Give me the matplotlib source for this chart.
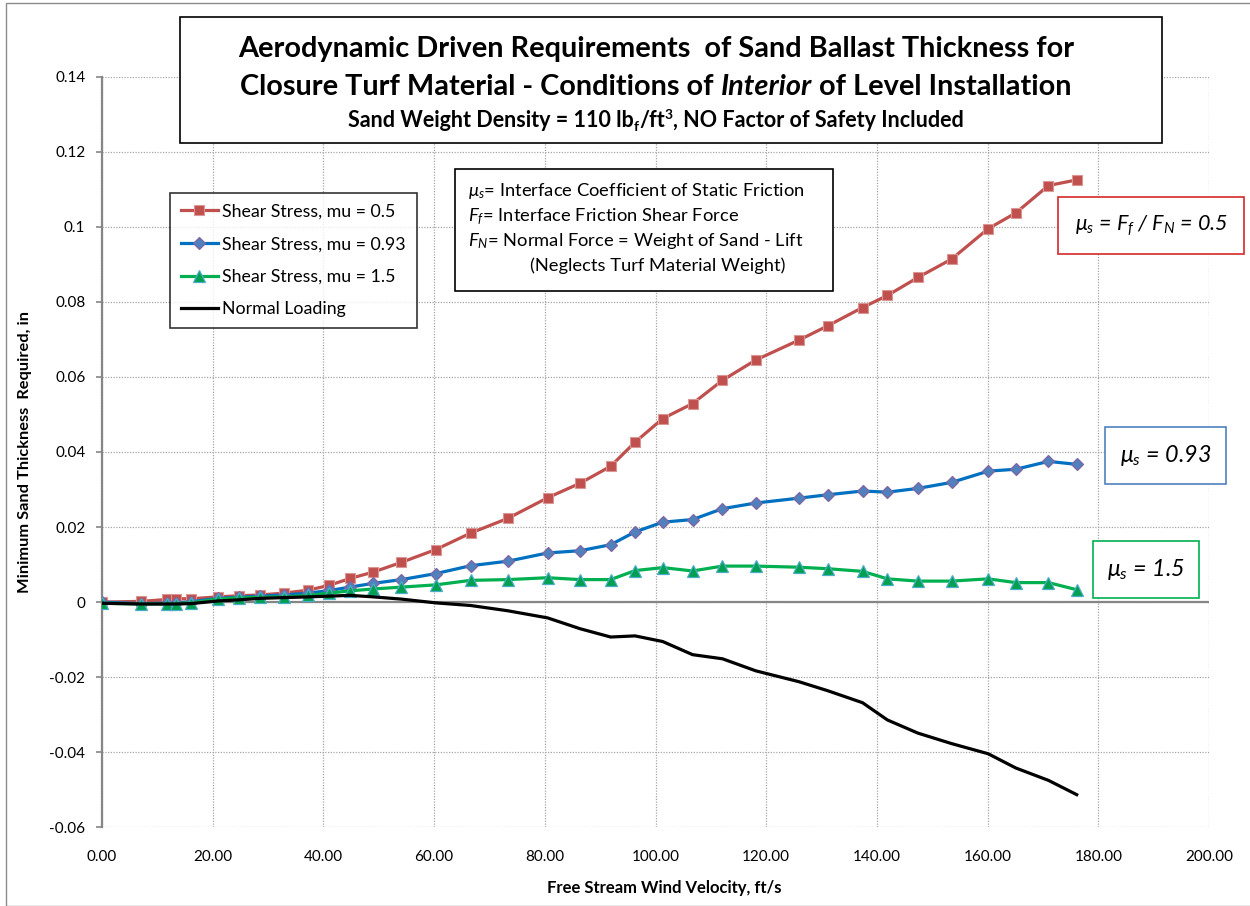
import matplotlib
matplotlib.use('Agg')
import matplotlib.pyplot as plt
from matplotlib.patches import Rectangle

plt.rcParams['font.family'] = ['Lato', 'DejaVu Sans']
plt.rcParams['mathtext.fontset'] = 'custom'
plt.rcParams['mathtext.rm'] = 'Lato'
plt.rcParams['mathtext.it'] = 'Lato:italic'
plt.rcParams['mathtext.bf'] = 'Lato:bold'

# --- data ---
velocity = [0, 7.0, 11.8, 13.4, 16.1, 20.9, 24.7, 28.5, 32.9, 37.3, 41.1, 44.8, 49.0,
            54.1, 60.3, 66.6, 73.3, 80.5, 86.4, 91.9, 96.3, 101.3,
            106.7, 112.1, 118.1, 125.9, 131.1, 137.4, 141.9, 147.4, 153.5, 160.1, 165.1, 171.0, 176.1]

mu_05 = [0.0000, 0.0002, 0.0007, 0.0009, 0.0009, 0.0014, 0.0017, 0.0019, 0.0024, 0.0032, 0.0045, 0.0063, 0.0080,
         0.0106, 0.0140, 0.0184, 0.0223, 0.0278, 0.0317, 0.0362, 0.0426, 0.0489,
         0.0529, 0.0591, 0.0645, 0.0698, 0.0736, 0.0785, 0.0817, 0.0865, 0.0914, 0.0995, 0.1037, 0.1110, 0.1125]

mu_093 = [0.0000, -0.0004, -0.0003, -0.0002, 0.0001, 0.0010, 0.0013, 0.0016, 0.0019, 0.0024, 0.0031, 0.0040, 0.0050,
          0.0060, 0.0076, 0.0097, 0.0109, 0.0131, 0.0137, 0.0153, 0.0187, 0.0213,
          0.0220, 0.0249, 0.0264, 0.0277, 0.0286, 0.0296, 0.0293, 0.0303, 0.0319, 0.0349, 0.0354, 0.0375, 0.0367]

mu_15 = [-0.0003, -0.0005, -0.0005, -0.0004, -0.0002, 0.0008, 0.0011, 0.0013, 0.0014, 0.0018, 0.0024, 0.0030, 0.0035,
         0.0040, 0.0046, 0.0058, 0.0060, 0.0065, 0.0060, 0.0060, 0.0084, 0.0092,
         0.0083, 0.0096, 0.0096, 0.0093, 0.0089, 0.0082, 0.0062, 0.0056, 0.0056, 0.0062, 0.0052, 0.0052, 0.0033]

normal = [-0.0003, -0.0005, -0.0005, -0.0005, -0.0004, 0.0003, 0.0006, 0.0010, 0.0012, 0.0014, 0.0016, 0.0018, 0.0014,
          0.0008, -0.0002, -0.0009, -0.0023, -0.0042, -0.0071, -0.0093, -0.0090, -0.0105,
          -0.0140, -0.0151, -0.0183, -0.0212, -0.0236, -0.0268, -0.0314, -0.0349, -0.0377, -0.0404, -0.0442, -0.0475, -0.0513]

x_ticks = [0, 20, 40, 60, 80, 100, 120, 140, 160, 180, 200]
x_ticklabels = ['0.00', '20.00', '40.00', '60.00', '80.00', '100.00', '120.00',
                '140.00', '160.00', '180.00', '200.00']
y_ticks = [-0.06, -0.04, -0.02, 0, 0.02, 0.04, 0.06, 0.08, 0.1, 0.12, 0.14]
y_ticklabels = ['-0.06', '-0.04', '-0.02', '0', '0.02', '0.04', '0.06', '0.08', '0.1', '0.12', '0.14']

W, H = 1250, 906
fig = plt.figure(figsize=(W / 100, H / 100), dpi=100)
renderer = fig.canvas.get_renderer()


def fx(px):
    return px / W


def fy(py):
    return 1 - py / H


def rich_text(x, y, pieces, ha='center', **common):
    """pieces: (text, props, dy_px) drawn side by side, baseline at pixel y."""
    items = []
    for s, props, dy in pieces:
        t = fig.text(0, 0, s, va='baseline', ha='left', **{**common, **props})
        w = t.get_window_extent(renderer).width
        items.append((t, w, dy))
    total = sum(w for _, w, _ in items)
    x0 = x - total / 2 if ha == 'center' else x
    for t, w, dy in items:
        t.set_position((fx(x0), fy(y - dy)))
        x0 += w


# outer chart border
fig.patches.append(Rectangle((fx(6), 0), 1, fy(3), transform=fig.transFigure,
                             fill=False, edgecolor='#8C8C8C', lw=1.0))

ax = fig.add_axes([fx(102), fy(827.3), fx(1209 - 102), (827.3 - 76.7) / H])

ax.plot(velocity, mu_05, '-', color='#C0504D', lw=2.3, marker='s', ms=7.5,
        mfc='#C0504D', mec='#D99694', mew=0.8, label='Shear Stress, mu = 0.5', zorder=3)
ax.plot(velocity, mu_093, '-', color='#0070C0', lw=2.3, marker='D', ms=6.2,
        mfc='#4F81BD', mec='#8064A2', mew=0.9, label='Shear Stress, mu = 0.93', zorder=3)
ax.plot(velocity, mu_15, '-', color='#00B050', lw=2.3, marker='^', ms=8,
        mfc='#00A050', mec='#4BACC6', mew=0.9, label='Shear Stress, mu = 1.5', zorder=3)
ax.plot(velocity, normal, '-', color='black', lw=2.3, label='Normal Loading', zorder=4)

ax.set_xlim(0, 200)
ax.set_ylim(-0.06, 0.14)
ax.set_xticks(x_ticks)
ax.set_xticklabels(x_ticklabels)
ax.set_yticks(y_ticks)
ax.set_yticklabels(y_ticklabels)
ax.tick_params(axis='x', length=0, pad=16, labelsize=11)
ax.tick_params(axis='y', length=4, width=1.2, color='#868686', pad=8, labelsize=11)

ax.grid(True, color='#A6A6A6', lw=0.9, linestyle=(0, (1, 1.2)))
for s in ['top', 'right', 'bottom']:
    ax.spines[s].set_visible(False)
ax.spines['left'].set_color('#868686')
ax.spines['left'].set_linewidth(1.6)
ax.axhline(0, color='#868686', lw=1.6, zorder=2)

leg = ax.legend(loc='upper left', bbox_to_anchor=(fx(170), fy(193)), bbox_transform=fig.transFigure,
                borderaxespad=0, frameon=True, fancybox=False, edgecolor='black', fontsize=12.8,
                handlelength=2.1, handletextpad=0.25, labelspacing=0.93, borderpad=0.6)
leg.get_frame().set_linewidth(1.2)

fig.text(fx(25), fy(452), 'Minimum Sand Thickness  Required, in', rotation=90,
         ha='center', va='center', fontsize=11.8, fontweight='bold')
fig.text(fx(664), fy(888), 'Free Stream Wind Velocity, ft/s', ha='center', va='center',
         fontsize=12, fontweight='bold')

# title box
fig.patches.append(Rectangle((fx(180), fy(143)), fx(1162 - 180), (143 - 17) / H,
                             transform=fig.transFigure, fill=True, facecolor='white',
                             edgecolor='black', lw=1.2, zorder=5))
bold = dict(fontweight='bold', zorder=6)
rich_text(656, 57, [('Aerodynamic Driven Requirements  of Sand Ballast Thickness for', dict(fontsize=20.8, **bold), 0)])
rich_text(656, 95, [('Closure Turf Material - Conditions of ', dict(fontsize=20.8, **bold), 0),
                    ('Interior', dict(fontsize=20.8, fontstyle='italic', **bold), 0),
                    (' of Level Installation', dict(fontsize=20.8, **bold), 0)])
rich_text(656, 127, [('Sand Weight Density = 110 lb', dict(fontsize=15.5, **bold), 0),
                     ('f', dict(fontsize=10, **bold), -4),
                     ('/ft', dict(fontsize=15.5, **bold), 0),
                     ('3', dict(fontsize=10, **bold), 8),
                     (', NO Factor of Safety Included', dict(fontsize=15.5, **bold), 0)])

# definitions box
fig.patches.append(Rectangle((fx(455), fy(291)), fx(833 - 455), (291 - 169) / H,
                             transform=fig.transFigure, fill=True, facecolor='white',
                             edgecolor='black', lw=1.2, zorder=5))
info = dict(fontsize=13.2, zorder=6)
rich_text(468, 196, [(r'$\mu_s$= Interface Coefficient of Static Friction', info, 0)], ha='left')
rich_text(468, 221, [(r'$F_f$= Interface Friction Shear Force', info, 0)], ha='left')
rich_text(468, 246, [(r'$F_N$= Normal Force = Weight of Sand - Lift', info, 0)], ha='left')
rich_text(530, 271, [('(Neglects Turf Material Weight)', info, 0)], ha='left')

# mu labels
boxes = [((1058, 197, 1244, 254), '#D42A2A', r'$\mu_s$ = $F_f$ / $F_N$ = 0.5', 15.5),
         ((1105, 427, 1226, 484), '#4F81BD', r'$\mu_s$ = 0.93', 16.8),
         ((1093, 541, 1199, 598), '#00B050', r'$\mu_s$ = 1.5', 16.8)]
for (l, t, r, b), ec, label, size in boxes:
    fig.patches.append(Rectangle((fx(l), fy(b)), fx(r - l), (b - t) / H,
                                 transform=fig.transFigure, fill=True, facecolor='white',
                                 edgecolor=ec, lw=1.2, zorder=5))
    fig.text(fx((l + r) / 2), fy((t + b) / 2), label, ha='center', va='center',
             fontsize=size, fontstyle='italic', zorder=6)

fig.savefig('out.png', dpi=100)
